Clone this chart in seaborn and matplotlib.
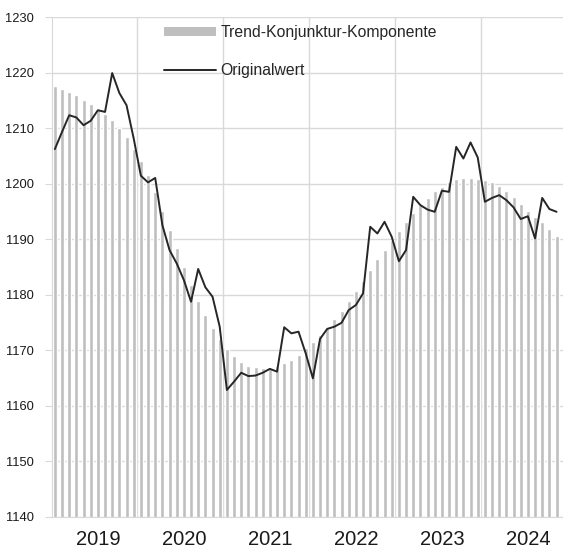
import numpy as np
import pandas as pd
import seaborn as sns
import matplotlib.pyplot as plt
from matplotlib.patches import Patch
from matplotlib.lines import Line2D

# Monatswerte Jan 2019 - Nov 2024
jahre = ['2019', '2020', '2021', '2022', '2023', '2024']

trend = [1217.6, 1217.0, 1216.5, 1215.9, 1215.1, 1214.3, 1213.4, 1212.5, 1211.4, 1210.0, 1208.3, 1206.3,
         1204.1, 1201.5, 1198.4, 1195.1, 1191.7, 1188.3, 1185.0, 1181.7, 1178.9, 1176.3, 1174.0, 1172.0,
         1170.1, 1168.9, 1167.8, 1167.2, 1166.9, 1166.7, 1166.8, 1167.1, 1167.6, 1168.2, 1169.1, 1170.3,
         1171.4, 1172.7, 1173.9, 1175.5, 1177.1, 1178.8, 1180.6, 1182.5, 1184.5, 1186.4, 1188.1, 1189.8,
         1191.4, 1193.1, 1194.6, 1196.1, 1197.4, 1198.6, 1199.4, 1200.2, 1200.8, 1201.0, 1201.0, 1200.9,
         1200.6, 1200.2, 1199.5, 1198.7, 1197.5, 1196.3, 1195.1, 1194.0, 1193.0, 1191.8, 1190.6]

original = [1206.2, 1209.3, 1212.3, 1211.9, 1210.5, 1211.3, 1213.2, 1212.9, 1219.9, 1216.3, 1214.1, 1208.1,
            1201.4, 1200.2, 1201.0, 1192.5, 1188.0, 1185.6, 1182.6, 1178.7, 1184.6, 1181.3, 1179.6, 1174.2,
            1162.8, 1164.3, 1165.9, 1165.3, 1165.4, 1165.9, 1166.6, 1166.1, 1174.1, 1173.0, 1173.3, 1169.4,
            1164.9, 1172.0, 1173.8, 1174.2, 1174.9, 1177.2, 1178.1, 1180.2, 1192.2, 1191.0, 1193.1, 1190.4,
            1186.0, 1188.0, 1197.6, 1196.1, 1195.3, 1194.9, 1198.7, 1198.5, 1206.6, 1204.5, 1207.4, 1204.7,
            1196.7, 1197.4, 1197.9, 1197.0, 1195.7, 1193.6, 1194.1, 1190.1, 1197.4, 1195.4, 1194.9]

df = pd.DataFrame({'monat': np.arange(len(trend)), 'trend': trend, 'original': original})

sns.set_style('white')
plt.rcParams['font.family'] = ['Liberation Sans', 'DejaVu Sans']

fig = plt.figure(figsize=(5.63, 5.5), dpi=100)
ax = fig.add_axes([52/563, 33.5/550, 511/563, 499.5/550])

grau = '#d9d9d9'
ax.set_axisbelow(True)
for v in np.arange(1140, 1231, 10):
    ax.axhline(v, color=grau, lw=1, zorder=0)
for g in np.arange(11.5, len(trend), 12):
    ax.axvline(g, color=grau, lw=1, zorder=0)

sns.barplot(data=df, x='monat', y='trend', color='#bfbfbf', width=0.56,
            saturation=1, ax=ax, zorder=2)
sns.lineplot(data=df, x='monat', y='original', color='#262626', lw=1.4, ax=ax, zorder=3)

ax.set_ylim(1140, 1230)
ax.set_xlim(-0.4, 70.9)
ax.set_yticks(np.arange(1140, 1231, 10))
ax.tick_params(axis='y', length=5, color=grau, pad=8, labelsize=9.3, labelcolor='#1a1a1a', left=True)
ax.set_xticks(np.arange(len(jahre)) * 12 + 6)
ax.set_xticklabels(jahre, fontsize=14.5, color='#1a1a1a')
ax.tick_params(axis='x', length=0, pad=10)
ax.set_xlabel('')
ax.set_ylabel('')

for s in ['top', 'right']:
    ax.spines[s].set_visible(False)
ax.spines['left'].set_color(grau)
ax.spines['bottom'].set_color(grau)

handles = [Patch(facecolor='#bfbfbf', edgecolor='none'),
           Line2D([], [], color='#262626', lw=1.4)]
fig.legend(handles, ['Trend-Konjunktur-Komponente', 'Originalwert'],
           loc='upper left', bbox_to_anchor=(164/563, 1 - 25/550), frameon=False,
           fontsize=11.3, handlelength=3.3, handleheight=0.55, handletextpad=0.3,
           labelspacing=1.45, borderpad=0, borderaxespad=0)

fig.savefig('out.png', dpi=100)
